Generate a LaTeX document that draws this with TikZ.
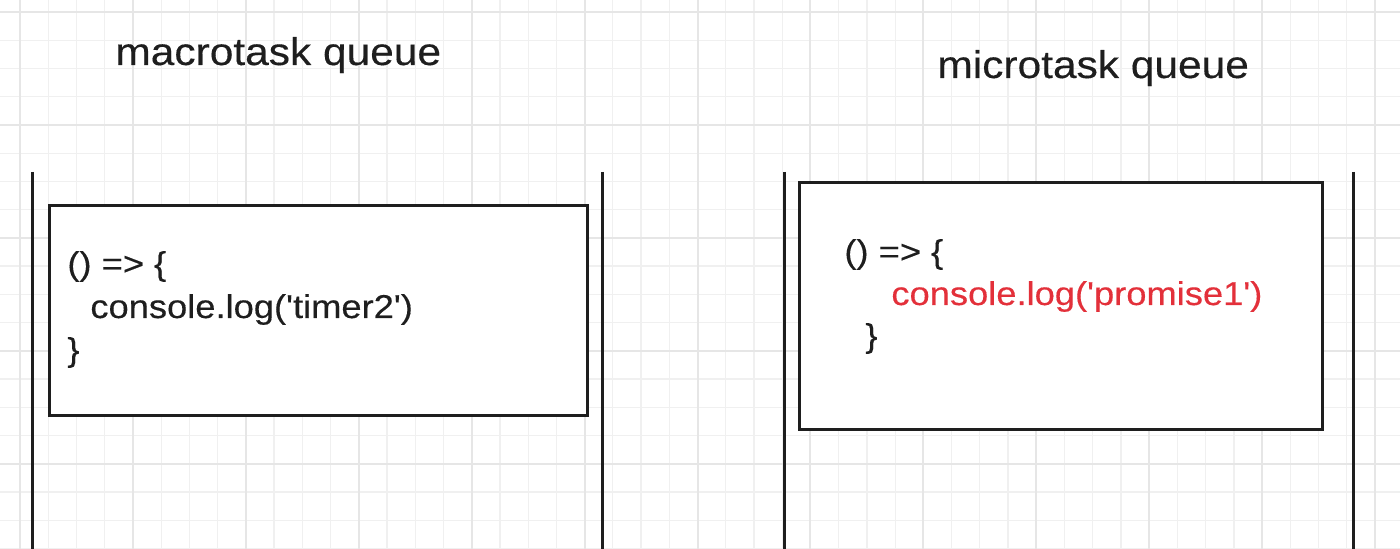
\documentclass[tikz,border=0pt]{standalone}
\usepackage{fontspec}
\newfontfamily\uifont[FakeStretch=1.1,FakeBold=0.3]{Liberation Sans}
\definecolor{gridminor}{HTML}{F0F0F0}
\definecolor{gridmajor}{HTML}{E6E6E6}
\definecolor{ink}{HTML}{1E1E1E}
\definecolor{codered}{HTML}{E3303A}
\tikzset{
  title/.style={anchor=base west, inner sep=0pt, text=ink, font=\uifont\fontsize{19.3pt}{23pt}\selectfont},
  code/.style={anchor=base west, inner sep=0pt, text=ink, font=\uifont\fontsize{16.5pt}{20pt}\selectfont},
  taskbox/.style={draw=ink, line width=1.5pt, fill=white, rectangle},
  rail/.style={draw=ink, line width=1.5pt},
}
\begin{document}
\begin{tikzpicture}[x=0.5pt,y=-0.5pt]
\useasboundingbox (0,0) rectangle (1400,549);
\fill[white] (0,0) rectangle (1400,549);
\begin{scope}
\clip (0,0) rectangle (1400,549);
\foreach \i in {-1,...,49} {
  \draw[gridminor, line width=0.6pt] ({20+28.23*\i},0) -- ({20+28.23*\i},549);
}
\foreach \j in {-1,...,19} {
  \draw[gridminor, line width=0.6pt] (0,{12+28.23*\j}) -- (1400,{12+28.23*\j});
}
\foreach \i in {0,...,12} {
  \draw[gridmajor, line width=1pt] ({20+112.92*\i},0) -- ({20+112.92*\i},549);
}
\foreach \j in {0,...,4} {
  \draw[gridmajor, line width=1pt] (0,{12+112.92*\j}) -- (1400,{12+112.92*\j});
}
\end{scope}

% titles
\node[title] (tmacro) at (115,65) {macrotask queue};
\node[title] (tmicro) at (937,78) {microtask queue};

% rails
\coordinate (l1t) at (32,172); \coordinate (l1b) at (32,549);
\coordinate (l2t) at (602,172); \coordinate (l2b) at (602,549);
\coordinate (r1t) at (784,172); \coordinate (r1b) at (784,549);
\coordinate (r2t) at (1353,172); \coordinate (r2b) at (1353,549);
\draw[rail] (l1t) -- (l1b);
\draw[rail] (l2t) -- (l2b);
\draw[rail] (r1t) -- (r1b);
\draw[rail] (r2t) -- (r2b);

% boxes
\node[taskbox, minimum width=269pt, minimum height=105pt, anchor=north west, inner sep=0pt] (macrobox) at (48,204) {};
\node[taskbox, minimum width=261.5pt, minimum height=123.5pt, anchor=north west, inner sep=0pt] (microbox) at (798,181) {};

% macro code
\node[code] (m1) at (67,275) {() => \{};
\node[code] (m2) at (90,318) {console.log('timer2')};
\node[code] (m3) at (67,361) {\}};

% micro code
\node[code] (u1) at (844,263) {() => \{};
\node[code, text=codered] (u2) at (891,305) {console.log('promise1')};
\node[code] (u3) at (865,347) {\}};
\end{tikzpicture}
\end{document}
